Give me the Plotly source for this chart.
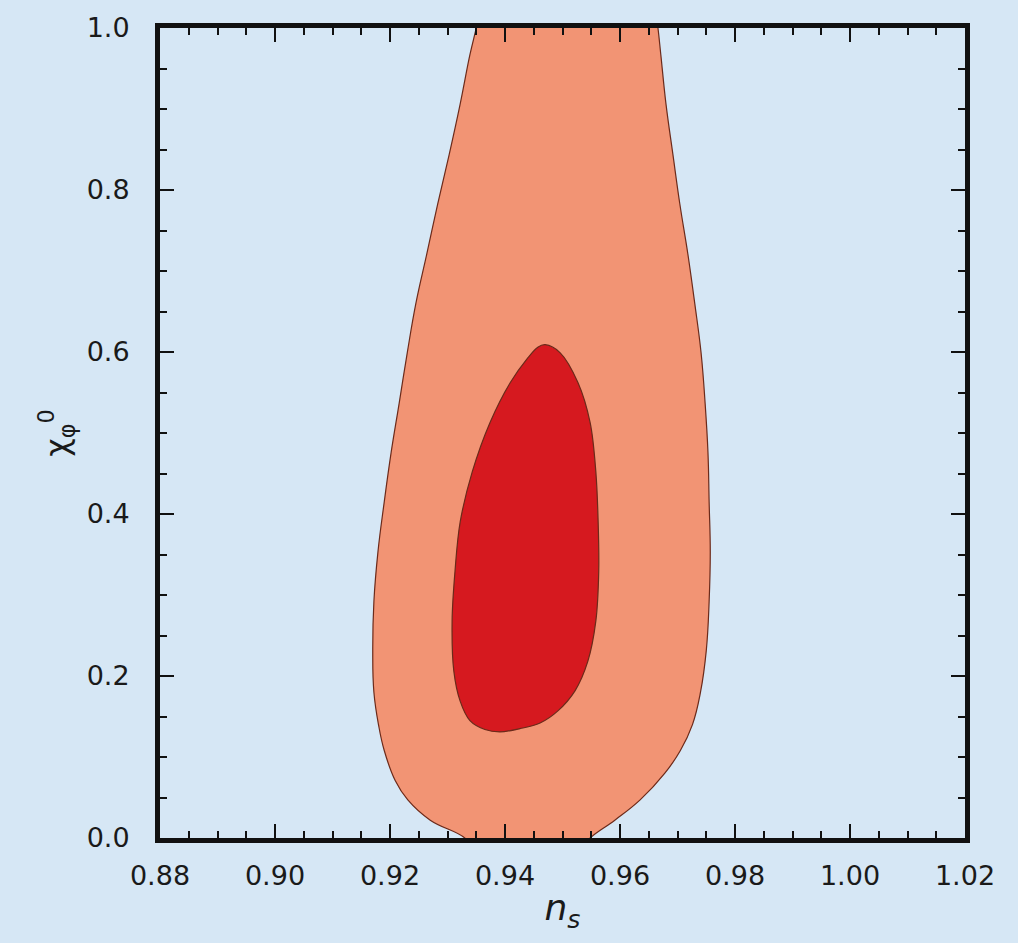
import plotly.graph_objects as go

# Outer (95%) contour boundary: left edge bottom->top, then right edge top->bottom
# (end points run slightly past the axis range; the plot area clips them)
outer_ns = [0.9345, 0.9330, 0.9270, 0.9231, 0.9209, 0.9190, 0.9180, 0.9172, 0.9170, 0.9172, 0.9179, 0.9190,
            0.9202, 0.9216, 0.9230, 0.9245, 0.9264, 0.9283, 0.9303, 0.9322, 0.9339, 0.9350, 0.9356,
            0.9662, 0.9666, 0.9671, 0.9680, 0.9692, 0.9704, 0.9718, 0.9730, 0.9741, 0.9748, 0.9753,
            0.9755, 0.9757, 0.9755, 0.9750, 0.9740, 0.9726, 0.9705, 0.9678, 0.9635, 0.9591, 0.9548, 0.9530]
outer_chi = [-0.015, 0.000, 0.022, 0.047, 0.071, 0.108, 0.140, 0.180, 0.231, 0.292, 0.353, 0.415,
             0.476, 0.537, 0.599, 0.660, 0.721, 0.783, 0.844, 0.906, 0.967, 1.000, 1.020,
             1.020, 1.000, 0.967, 0.906, 0.844, 0.783, 0.721, 0.660, 0.599, 0.537, 0.476,
             0.415, 0.353, 0.292, 0.231, 0.180, 0.140, 0.108, 0.080, 0.047, 0.022, 0.000, -0.015]

# Inner (68%) contour boundary, clockwise from top
inner_ns = [0.9470, 0.9496, 0.9527, 0.9548, 0.9558, 0.9562, 0.9563, 0.9558, 0.9544, 0.9522,
            0.9492, 0.9461, 0.9426, 0.9391, 0.9365, 0.9339, 0.9322, 0.9311, 0.9308, 0.9313,
            0.9322, 0.9343, 0.9374, 0.9409, 0.9440, 0.9457, 0.9470]
inner_chi = [0.609, 0.599, 0.562, 0.513, 0.452, 0.390, 0.329, 0.268, 0.218, 0.182,
             0.157, 0.142, 0.135, 0.131, 0.134, 0.145, 0.169, 0.206, 0.268, 0.329,
             0.390, 0.452, 0.513, 0.562, 0.593, 0.606, 0.609]

x_ticks = [0.88, 0.90, 0.92, 0.94, 0.96, 0.98, 1.00, 1.02]
x_ticklabels = ["0.88", "0.90", "0.92", "0.94", "0.96", "0.98", "1.00", "1.02"]
y_ticks = [0.0, 0.2, 0.4, 0.6, 0.8, 1.0]
y_ticklabels = ["0.0", "0.2", "0.4", "0.6", "0.8", "1.0"]

bg = "#D6E7F5"
edge = "#6b2a1a"

fig = go.Figure()
fig.add_trace(go.Scatter(x=outer_ns, y=outer_chi, mode="lines", fill="toself",
                         fillcolor="#F29474",
                         line=dict(color=edge, width=1.2, shape="spline", smoothing=1.2),
                         hoverinfo="skip", showlegend=False))
fig.add_trace(go.Scatter(x=inner_ns, y=inner_chi, mode="lines", fill="toself",
                         fillcolor="#D6191F",
                         line=dict(color=edge, width=1.2, shape="spline", smoothing=1.0),
                         hoverinfo="skip", showlegend=False))

tickfont = dict(family="DejaVu Sans", size=27, color="#1a1a1a")
axis_common = dict(showgrid=False, zeroline=False, showline=True, linecolor="#111",
                   linewidth=5, mirror="ticks", ticks="inside", ticklen=14, tickwidth=2,
                   tickcolor="#111", tickfont=tickfont)

fig.update_xaxes(range=[0.88, 1.02], tickvals=x_ticks, ticktext=x_ticklabels,
                 minor=dict(dtick=0.005, ticks="inside", ticklen=7, tickwidth=2, tickcolor="#111"),
                 title=dict(text="<i>n</i><sub><i>s</i></sub>",
                            font=dict(family="DejaVu Sans", size=36, color="#1a1a1a"), standoff=6),
                 ticklabelstandoff=10,
                 **axis_common)
fig.update_yaxes(range=[0.0, 1.0], tickvals=y_ticks, ticktext=y_ticklabels,
                 minor=dict(dtick=0.05, ticks="inside", ticklen=7, tickwidth=2, tickcolor="#111"),
                 title=dict(text="χ<sub>φ</sub><sup>0</sup>",
                            font=dict(family="DejaVu Sans", size=32, color="#1a1a1a"), standoff=10),
                 ticklabelstandoff=20,
                 **axis_common)

fig.update_layout(width=1018, height=943, paper_bgcolor=bg, plot_bgcolor=bg,
                  margin=dict(l=160, r=53, t=24, b=105), showlegend=False)

fig.write_html("out.html", config={"displayModeBar": False},
               post_script="document.body.style.margin='0';document.body.style.overflow='hidden';"
                           "document.body.style.background='#D6E7F5';")
